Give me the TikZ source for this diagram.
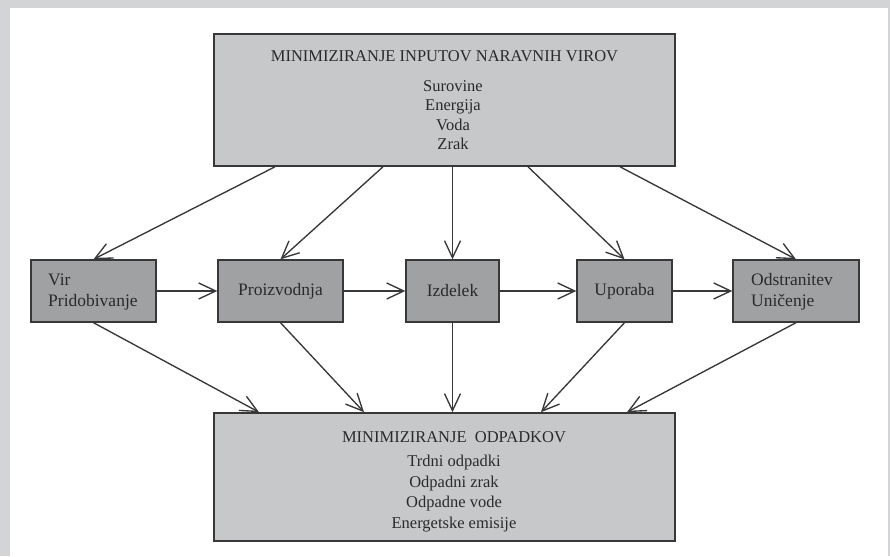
\documentclass[tikz,border=0pt]{standalone}
\usepackage{fontspec}
\setmainfont{Liberation Serif}
\usetikzlibrary{arrows.meta}
\definecolor{framegray}{HTML}{D3D4D6}
\definecolor{lightbox}{HTML}{C7C8CA}
\definecolor{darkbox}{HTML}{A0A1A3}
\definecolor{edgecol}{HTML}{383838}
\definecolor{ink}{HTML}{2A2A2A}
\begin{document}
\begin{tikzpicture}[x=1pt,y=1pt,
  bigbox/.style={draw=edgecol, fill=lightbox, line width=1.6pt, minimum width=461pt, inner sep=0pt},
  midbox/.style={draw=edgecol, fill=darkbox, line width=1.4pt, minimum height=62pt, text=ink, font=\fontsize{17.5}{21}\selectfont},
  midtext/.style={text=ink, align=left, inner sep=0pt, anchor=west, font=\fontsize{17.5}{21}\selectfont},
  bigtext/.style={text=ink, align=center, inner sep=0pt},
  arr/.style={draw=edgecol, line width=1.35pt, -{Straight Barb[length=17pt,width=16pt]}}]
\useasboundingbox (0,0) rectangle (890,556);
\fill[framegray] (0,0) rectangle (890,556);
\fill[white] (10,0) rectangle (888,548);
% big boxes
\node[bigbox, minimum height=132pt] (top) at (444.5,456) {};
\node[bigbox, minimum height=128pt] (bot) at (444.5,79) {};
\node[bigtext, font=\fontsize{16.5}{19.5}\selectfont] (toptitle) at (444.5,500) {MINIMIZIRANJE INPUTOV NARAVNIH VIROV};
\node[bigtext, font=\fontsize{16.5}{19.4}\selectfont] (toplist) at (453,441) {Surovine\\Energija\\Voda\\Zrak};
\node[bigtext, font=\fontsize{16.5}{20.7}\selectfont] (bottitle) at (454,119) {MINIMIZIRANJE\ \ ODPADKOV};
\node[bigtext, font=\fontsize{16.5}{20.8}\selectfont] (botlist) at (454,62.5) {Trdni odpadki\\Odpadni zrak\\Odpadne vode\\Energetske emisije};
% middle boxes
\node[midbox, minimum width=125pt] (vir) at (93.5,265) {};
\node[midtext] (virtext) at (48,264) {Vir\\Pridobivanje};
\node[midbox, minimum width=125pt] (pro) at (280.5,265) {Proizvodnja};
\node[midbox, minimum width=93pt] (izd) at (452.5,265) {Izdelek};
\node[midbox, minimum width=95pt] (upo) at (624.5,265) {Uporaba};
\node[midbox, minimum width=126pt] (ods) at (796,265) {};
\node[midtext] (odstext) at (751,264) {Odstranitev\\Uničenje};
% top arrows
\draw[arr] ([xshift=-169.5pt]top.south) -- (vir.north);
\draw[arr] ([xshift=-61.5pt]top.south) -- (pro.north);
\draw[arr] (top.south -| izd.north) -- (izd.north);
\draw[arr] ([xshift=83.5pt]top.south) -- (upo.north);
\draw[arr] ([xshift=175.5pt]top.south) -- (ods.north);
% horizontal arrows
\draw[arr] (vir.east) -- (pro.west);
\draw[arr] (pro.east) -- (izd.west);
\draw[arr] (izd.east) -- (upo.west);
\draw[arr] (upo.east) -- (ods.west);
% bottom arrows
\draw[arr] (vir.south) -- ([xshift=-185.5pt]bot.north);
\draw[arr] (pro.south) -- ([xshift=-80.5pt]bot.north);
\draw[arr] (izd.south) -- (izd.south |- bot.north);
\draw[arr] (upo.south) -- ([xshift=96.5pt]bot.north);
\draw[arr] (ods.south) -- ([xshift=182.5pt]bot.north);
\end{tikzpicture}
\end{document}
